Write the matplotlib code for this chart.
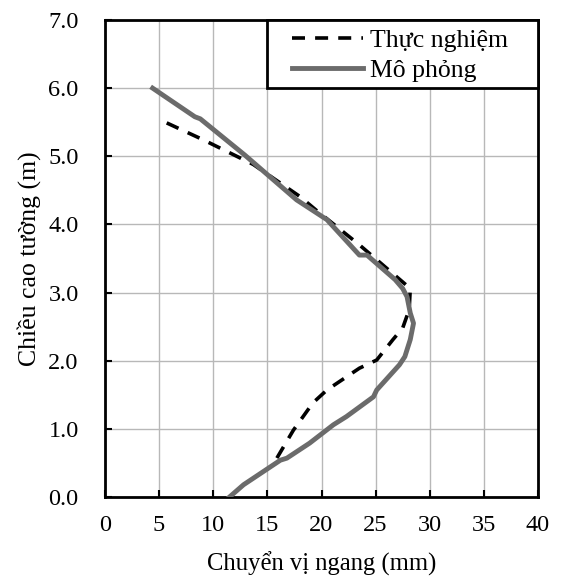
import numpy as np
import matplotlib.pyplot as plt
from matplotlib.patches import Rectangle

plt.rcParams['font.family'] = ['Liberation Serif', 'DejaVu Serif']

# Thuc nghiem (dashed)
exp_x = [5.7, 9.1, 13.7, 18.0, 19.5, 23.5, 28.2, 28.1, 27.5, 26.6, 25.1, 23.5, 20.5, 19.2, 17.4, 15.8]
exp_y = [5.49, 5.24, 4.88, 4.41, 4.21, 3.70, 3.06, 2.75, 2.48, 2.31, 2.01, 1.89, 1.57, 1.38, 0.98, 0.55]

# Mo phong (solid)
sim_x = [4.4, 8.3, 8.8, 12.9, 17.7, 20.5, 23.5, 24.2, 26.8, 27.5, 27.9, 28.2, 28.5, 28.2, 27.7,
         27.2, 25.1, 24.8, 22.3, 21.1, 18.9, 16.8, 16.2, 12.8, 11.5]
sim_y = [6.0, 5.58, 5.55, 5.02, 4.36, 4.07, 3.55, 3.55, 3.19, 3.06, 2.94, 2.70, 2.55, 2.31, 2.06,
         1.94, 1.57, 1.47, 1.18, 1.06, 0.79, 0.57, 0.54, 0.18, 0.0]

fig = plt.figure(figsize=(5.62, 5.8), dpi=100)
ax = fig.add_axes([105/562, 1-497/580, 433/562, 477/580])

ax.plot(exp_x, exp_y, color='black', lw=2.6, ls=(0, (3.6, 2.8)), label='Thực nghiệm', zorder=3)
ax.plot(sim_x, sim_y, color='#6b6b6b', lw=3.5, label='Mô phỏng', zorder=4)

ax.set_xlim(0, 40)
ax.set_ylim(0, 7)
ax.set_xticks(np.arange(0, 41, 5))
ax.set_yticks(np.arange(0, 7.1, 1))
ax.set_yticklabels(['%.1f' % v for v in np.arange(0, 7.1, 1)])
ax.grid(True, color='#b8b8b8', lw=1)
ax.set_axisbelow(True)
ax.tick_params(direction='in', length=5, width=1.5, labelsize=17.5)
ax.tick_params(axis='y', pad=19)
ax.tick_params(axis='x', pad=13)
for s in ax.spines.values():
    s.set_linewidth(2)
ax.set_xlabel('Chuyển vị ngang (mm)', fontsize=17.7, labelpad=11)
ax.set_ylabel('Chiều cao tường (m)', fontsize=18.5, labelpad=5)

# legend box
ax.add_patch(Rectangle((0.374, 0.858), 0.626, 0.142, transform=ax.transAxes,
                       facecolor='white', edgecolor='black', lw=2, zorder=5, clip_on=False))
leg = ax.legend(loc='upper left', bbox_to_anchor=(0.431, 0.982), fontsize=18.5,
                frameon=False, borderaxespad=0, borderpad=0, handlelength=2.78,
                handletextpad=0.27, labelspacing=0.3)
leg.set_zorder(6)

fig.savefig('out.png', dpi=100)
